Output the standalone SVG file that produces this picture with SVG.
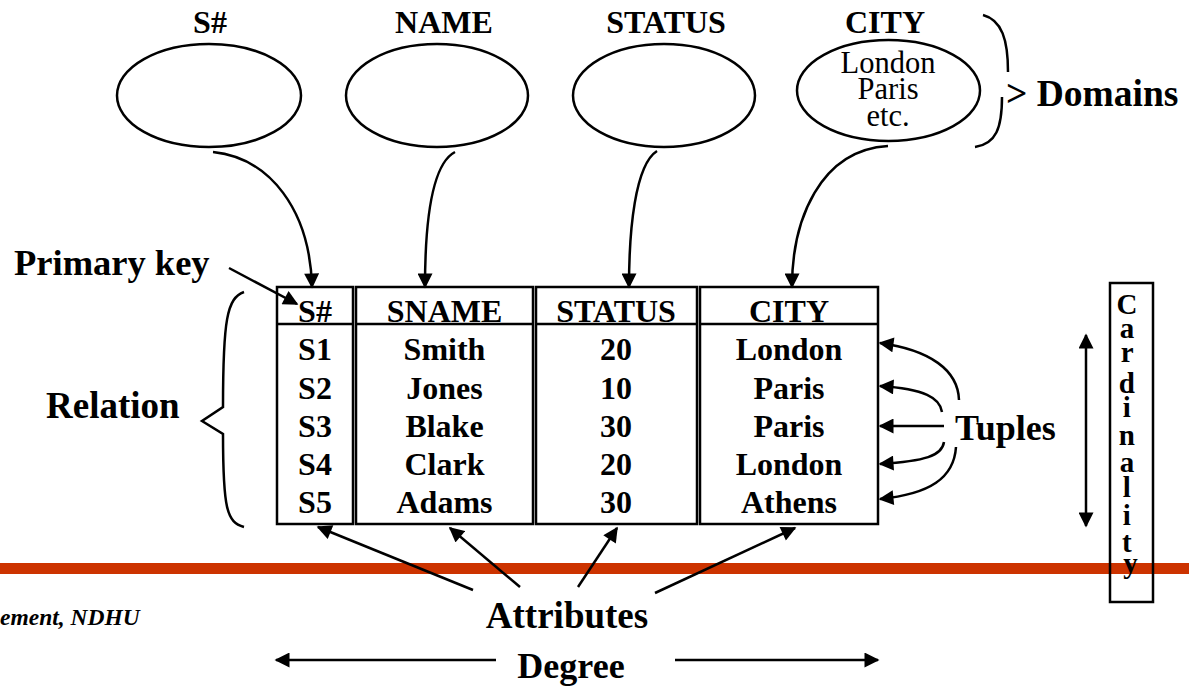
<svg xmlns="http://www.w3.org/2000/svg" width="1189" height="686" viewBox="0 0 1189 686">
  <style>
    .b { font-family: "Liberation Serif", "Times New Roman", serif; font-weight: bold; fill: #000; }
    .r { font-family: "Liberation Serif", "Times New Roman", serif; fill: #000; }
    .m { text-anchor: middle; }
    .dom { fill: #fff; stroke: #000; stroke-width: 2.5; }
    .col { fill: none; stroke: #000; stroke-width: 2.5; }
    .ln { fill: none; stroke: #000; stroke-width: 2.5; }
    .arr { fill: none; stroke: #000; stroke-width: 2.5; marker-end: url(#ah); }
  </style>
  <defs>
    <marker id="ah" viewBox="0 0 10 10" refX="9" refY="5" markerUnits="userSpaceOnUse" markerWidth="16" markerHeight="15" orient="auto-start-reverse">
      <path d="M0,0 L10,5 L0,10 Z" fill="#000"/>
    </marker>
  </defs>

  <!-- footer rule -->
  <rect x="0" y="563" width="1189" height="11" fill="#cc3300"/>
  <text class="b" x="0" y="625" font-size="23.5" font-style="italic">ement, NDHU</text>

  <!-- domains -->
  <g id="dom-sno">
    <text class="b m" x="210" y="33" font-size="32">S#</text>
    <ellipse class="dom" cx="209" cy="95.5" rx="92" ry="51.5"/>
  </g>
  <g id="dom-name">
    <text class="b m" x="444" y="33" font-size="32">NAME</text>
    <ellipse class="dom" cx="437" cy="95.5" rx="91" ry="51.5"/>
  </g>
  <g id="dom-status">
    <text class="b m" x="666" y="33" font-size="32">STATUS</text>
    <ellipse class="dom" cx="664" cy="95.5" rx="91" ry="51.5"/>
  </g>
  <g id="dom-city">
    <text class="b m" x="885" y="33" font-size="32">CITY</text>
    <ellipse class="dom" cx="888.5" cy="90.5" rx="91.5" ry="50.5"/>
    <text class="r m" x="888" y="73" font-size="30.5">London</text>
    <text class="r m" x="888" y="99" font-size="30.5">Paris</text>
    <text class="r m" x="888" y="126" font-size="30.5">etc.</text>
  </g>
  <g id="domains-brace">
    <path class="ln" d="M983,15 C1002,20 1008,40 1008,72"/>
    <path class="ln" d="M1002,97 C1002,128 996,144 975,147"/>
    <text class="b" x="1006" y="106" font-size="37.5">&gt; Domains</text>
  </g>

  <!-- relation table -->
  <g id="relation">
    <rect class="col" x="277" y="287" width="76" height="237"/>
    <rect class="col" x="356" y="287" width="177" height="237"/>
    <rect class="col" x="536" y="287" width="161" height="237"/>
    <rect class="col" x="700" y="287" width="178" height="237"/>
    <path class="ln" d="M277,324 H353 M356,324 H533 M536,324 H697 M700,324 H878"/>
    <g class="b m" font-size="32">
      <text x="315" y="322">S#</text>
      <text x="444.5" y="322">SNAME</text>
      <text x="616" y="322">STATUS</text>
      <text x="789" y="322">CITY</text>

      <text x="315" y="360">S1</text>
      <text x="444.5" y="360">Smith</text>
      <text x="616" y="360">20</text>
      <text x="789" y="360">London</text>

      <text x="315" y="399">S2</text>
      <text x="444.5" y="399">Jones</text>
      <text x="616" y="399">10</text>
      <text x="789" y="399">Paris</text>

      <text x="315" y="437">S3</text>
      <text x="444.5" y="437">Blake</text>
      <text x="616" y="437">30</text>
      <text x="789" y="437">Paris</text>

      <text x="315" y="475">S4</text>
      <text x="444.5" y="475">Clark</text>
      <text x="616" y="475">20</text>
      <text x="789" y="475">London</text>

      <text x="315" y="513">S5</text>
      <text x="444.5" y="513">Adams</text>
      <text x="616" y="513">30</text>
      <text x="789" y="513">Athens</text>
    </g>
  </g>

  <!-- side labels -->
  <g id="primary-key">
    <text class="b" x="14" y="275" font-size="36.5">Primary key</text>
  </g>
  <g id="relation-label">
    <text class="b" x="46" y="418" font-size="37">Relation</text>
    <path class="ln" d="M244,292 C227,298 223,320 223,407 L202,421 L223,434 C223,510 227,522 244,527"/>
  </g>
  <g id="tuples-label">
    <text class="b" x="955" y="440" font-size="36">Tuples</text>
  </g>
  <g id="attributes-label">
    <text class="b m" x="567" y="628" font-size="37">Attributes</text>
  </g>
  <g id="degree-label">
    <text class="b m" x="571" y="678" font-size="36">Degree</text>
  </g>
  <g id="cardinality">
    <rect x="1110" y="283" width="43" height="319" fill="none" stroke="#000" stroke-width="2.5"/>
    <!-- word set vertically, one letter per line -->
    <text class="b m" font-size="29">
      <tspan x="1130.5" y="314">C</tspan>
      <tspan x="1130.5" y="338">a</tspan>
      <tspan x="1130.5" y="362">r</tspan>
      <tspan x="1130.5" y="393">d</tspan>
      <tspan x="1130.5" y="417">i</tspan>
      <tspan x="1130.5" y="445">n</tspan>
      <tspan x="1130.5" y="472">a</tspan>
      <tspan x="1130.5" y="497">l</tspan>
      <tspan x="1130.5" y="525">i</tspan>
      <tspan x="1130.5" y="552">t</tspan>
      <tspan x="1130.5" y="573">y</tspan>
    </text>
  </g>

  <!-- connectors -->
  <g id="connectors">
    <path class="arr" d="M213,152 C270,158 310,210 312,287"/>
    <path class="arr" d="M455,152 C430,165 425,230 425,287"/>
    <path class="arr" d="M657,151 C635,165 629,230 629,287"/>
    <path class="arr" d="M888,146 C820,150 792,220 792,287"/>

    <path class="arr" d="M229,268 L297,304"/>

    <path class="arr" d="M959,400 C958,370 930,350 880,343"/>
    <path class="arr" d="M942,412 C940,398 925,389 880,386"/>
    <path class="arr" d="M944,426 L880,426"/>
    <path class="arr" d="M944,442 C942,456 925,461 880,464"/>
    <path class="arr" d="M956,447 C954,478 930,494 880,499"/>

    <path class="arr" d="M473,590 L318,527"/>
    <path class="arr" d="M520,587 L450,528"/>
    <path class="arr" d="M578,587 L617,528"/>
    <path class="arr" d="M655,593 L795,528"/>

    <path class="arr" d="M496,660 L276,660"/>
    <path class="arr" d="M675,660 L878,660"/>

    <path class="ln" d="M1086,335 L1086,526" marker-start="url(#ah)" marker-end="url(#ah)"/>
  </g>
</svg>
